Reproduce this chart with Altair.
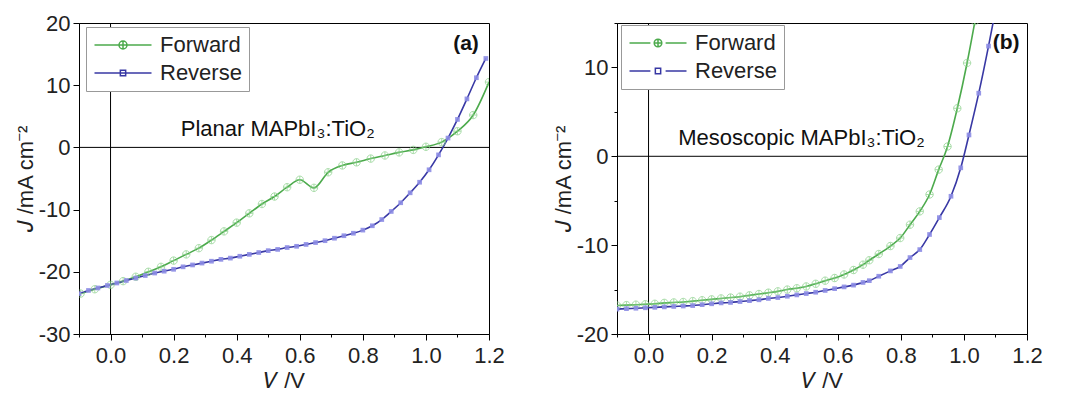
import altair as alt
import pandas as pd

# ---------------- data ----------------
a_fwd_v = [-0.095, -0.05, 0.0, 0.04, 0.08, 0.12, 0.16, 0.2, 0.24, 0.28, 0.32, 0.36, 0.4, 0.44, 0.48,
           0.52, 0.56, 0.6, 0.645, 0.69, 0.735, 0.78, 0.825, 0.87, 0.915, 0.96, 1.0, 1.05, 1.1, 1.15, 1.2]
a_fwd_j = [-23.5, -22.8, -22.1, -21.5, -20.8, -20.0, -19.2, -18.2, -17.2, -16.2, -14.9, -13.5, -12.1, -10.6, -9.1,
           -7.9, -6.4, -5.2, -6.5, -4.0, -2.9, -2.4, -1.8, -1.3, -0.8, -0.4, 0.1, 0.85, 2.6, 5.2, 10.5]

a_rev_v = [-0.1, -0.07, -0.04, -0.01, 0.02, 0.05, 0.08, 0.11, 0.14, 0.17, 0.2, 0.23, 0.26, 0.29, 0.32,
           0.35, 0.38, 0.41, 0.44, 0.47, 0.5, 0.53, 0.56, 0.59, 0.62, 0.65, 0.68, 0.71, 0.74, 0.77,
           0.8, 0.83, 0.86, 0.89, 0.92, 0.95, 0.98, 1.01, 1.04, 1.07, 1.1, 1.13, 1.16, 1.19]
a_rev_j = [-23.5, -23.0, -22.6, -22.2, -21.8, -21.4, -21.0, -20.6, -20.2, -19.9, -19.6, -19.2, -18.9, -18.6, -18.3,
           -18.0, -17.8, -17.5, -17.2, -16.9, -16.6, -16.4, -16.1, -15.9, -15.6, -15.3, -15.0, -14.6, -14.2, -13.8,
           -13.3, -12.6, -11.6, -10.3, -8.9, -7.3, -5.6, -3.6, -1.2, 1.5, 4.5, 7.8, 11.2, 14.3]

b_fwd_v = [-0.1, -0.07, -0.04, -0.01, 0.02, 0.05, 0.08, 0.11, 0.14, 0.17, 0.2, 0.23, 0.26, 0.29, 0.32,
           0.35, 0.38, 0.41, 0.44, 0.47, 0.5, 0.53, 0.56, 0.59, 0.62, 0.65, 0.68, 0.70, 0.73, 0.767,
           0.798, 0.829, 0.86, 0.891, 0.92, 0.948, 0.979, 1.01, 1.035]
b_fwd_j = [-16.8, -16.75, -16.7, -16.65, -16.6, -16.5, -16.45, -16.4, -16.3, -16.2, -16.1, -16.0, -15.9, -15.8, -15.65,
           -15.5, -15.35, -15.2, -15.0, -14.85, -14.65, -14.35, -14.0, -13.7, -13.3, -12.8, -12.2, -11.7, -11.0, -10.1,
           -9.2, -7.7, -6.2, -4.3, -1.5, 1.1, 5.4, 10.5, 15.2]

b_rev_v = [-0.1, -0.07, -0.04, -0.01, 0.02, 0.05, 0.08, 0.11, 0.14, 0.17, 0.2, 0.23, 0.26, 0.29, 0.32,
           0.35, 0.38, 0.41, 0.44, 0.47, 0.5, 0.53, 0.56, 0.59, 0.62, 0.65, 0.68, 0.70, 0.73, 0.767,
           0.798, 0.829, 0.86, 0.891, 0.922, 0.959, 0.99, 1.016, 1.047, 1.078, 1.095]
b_rev_j = [-17.2, -17.15, -17.1, -17.05, -17.0, -16.95, -16.9, -16.85, -16.8, -16.7, -16.6, -16.5, -16.45, -16.35, -16.25,
           -16.15, -16.0, -15.9, -15.75, -15.6, -15.45, -15.3, -15.1, -14.9, -14.7, -14.5, -14.2, -14.0, -13.5, -12.9,
           -12.4, -11.4, -10.5, -8.8, -6.9, -4.5, -1.3, 2.4, 7.1, 12.4, 15.5]

series_names = ["Forward", "Reverse"]
x_major = [0.0, 0.2, 0.4, 0.6, 0.8, 1.0, 1.2]
x_minor = [-0.1, 0.1, 0.3, 0.5, 0.7, 0.9, 1.1]
a_y_ticks = [-30, -25, -20, -15, -10, -5, 0, 5, 10, 15, 20]
b_y_ticks = [-20, -15, -10, -5, 0, 5, 10, 15]

FONT = "Liberation Sans"
FS = 22
GREEN_LINE = "#4caa4c"
GREEN_MARK = "#86cf86"
BLUE_LINE = "#3838a4"
BLUE_MARK = "#8c8ce4"

CIRCLE_PLUS = "M1,0A1,1 0 1,1 -1,0A1,1 0 1,1 1,0M0,-1V1M-1,0H1"

LEG_A = [
    "M-1,0H5M2.42,0A0.42,0.42 0 1,1 1.58,0A0.42,0.42 0 1,1 2.42,0M2,-0.42V0.42M1.58,0H2.42",
    "M-1,0H5M1.72,-0.28H2.28V0.28H1.72Z",
]
LEG_B = [
    "M-1,0H1.2M2.8,0H5M2.4,0A0.4,0.4 0 1,1 1.6,0A0.4,0.4 0 1,1 2.4,0M2,-0.4V0.4M1.6,0H2.4",
    "M-1,0H1.2M2.8,0H5M1.72,-0.28H2.28V0.28H1.72Z",
]


def make_df(fv, fj, rv, rj):
    return pd.concat([
        pd.DataFrame({"V": fv, "J": fj, "series": "Forward"}),
        pd.DataFrame({"V": rv, "J": rj, "series": "Reverse"}),
    ], ignore_index=True)


MAJOR_Y = "abs(datum.value/10 - round(datum.value/10)) < 0.01"

AX = dict(labelFont=FONT, titleFont=FONT, labelFontSize=FS, titleFontSize=FS, titleFontWeight="normal",
          labelColor="#222", titleColor="#222", domainColor="black", tickColor="black",
          domainWidth=1, tickWidth=1, grid=False, labelOverlap=False, labelFlush=False)


def panel(df, ydom, yticks, leg_paths, legx, legy, label, lx, ly, tag, tx, ty):
    xs = alt.Scale(domain=[-0.1, 1.2], nice=False, zero=False)
    ys = alt.Scale(domain=ydom, nice=False, zero=False)
    xaxis = alt.Axis(values=x_major, format=".1f", title="𝑉 /V", tickSize=6, orient="bottom",
                     labelPadding=5, titlePadding=4, **AX)
    xminor = alt.Axis(values=x_minor, labels=False, domain=False, title=None, tickSize=3, orient="bottom",
                      tickColor="black", tickWidth=1, grid=False)
    yaxis = alt.Axis(
        values=yticks, title="𝐽 /mA cm⁻²",
        labelExpr="'' + datum.value",
        labelOpacity={"condition": {"test": MAJOR_Y, "value": 1}, "value": 0},
        tickSize={"condition": {"test": MAJOR_Y, "value": 6}, "value": 3},
        labelPadding=3, titlePadding=4, minExtent=38, maxExtent=38, **AX,
    )
    xe = alt.X("V:Q", scale=xs, axis=None)
    ye = alt.Y("J:Q", scale=ys)

    zero_h = alt.Chart(pd.DataFrame({"J": [0]})).mark_rule(color="black", strokeWidth=1).encode(y=ye)
    zero_v = alt.Chart(pd.DataFrame({"V": [0]})).mark_rule(color="black", strokeWidth=1).encode(
        x=alt.X("V:Q", scale=xs, axis=xminor))

    base_f = alt.Chart(df).transform_filter("datum.series == 'Forward'")
    base_r = alt.Chart(df).transform_filter("datum.series == 'Reverse'")

    line_f = base_f.mark_line(clip=True, strokeWidth=1.6, interpolate="monotone", color=GREEN_LINE).encode(
        x=alt.X("V:Q", scale=xs, axis=xaxis), y=alt.Y("J:Q", scale=ys, axis=yaxis))
    line_r = base_r.mark_line(clip=True, strokeWidth=1.6, interpolate="monotone", color=BLUE_LINE).encode(x=xe, y=ye)
    pts_f = base_f.mark_point(shape=CIRCLE_PLUS, size=55, filled=False, color=GREEN_MARK,
                              strokeWidth=1, clip=True).encode(x=xe, y=ye)
    pts_r = base_r.mark_square(size=22, color=BLUE_MARK, opacity=0.9, clip=True).encode(x=xe, y=ye)

    leg = alt.Legend(
        orient="none", legendX=legx, legendY=legy, title=None,
        labelFont=FONT, labelFontSize=FS, labelColor="#222", symbolSize=361, labelOffset=45,
        strokeColor="#999", fillColor="white", padding=7, rowPadding=6,
        symbolStrokeWidth=1.5, labelLimit=300,
    )
    cscale = alt.Scale(domain=series_names, range=[GREEN_LINE, BLUE_LINE])
    sscale = alt.Scale(domain=series_names, range=leg_paths)
    legend_layer = alt.Chart(df).mark_point(filled=False, strokeWidth=1.5, opacity=0).encode(
        x=xe, y=ye,
        color=alt.Color("series:N", scale=cscale, legend=leg),
        shape=alt.Shape("series:N", scale=sscale, legend=leg),
    )

    txt = alt.Chart(pd.DataFrame({"V": [lx], "J": [ly], "t": [label]})).mark_text(
        font=FONT, fontSize=FS, color="#111").encode(x=xe, y=ye, text="t:N")
    tagt = alt.Chart(pd.DataFrame({"V": [tx], "J": [ty], "t": [tag]})).mark_text(
        font=FONT, fontSize=FS - 1, fontWeight="bold", color="#111").encode(x=xe, y=ye, text="t:N")

    return alt.layer(zero_h, zero_v, line_f, line_r, pts_f, pts_r, legend_layer, txt, tagt).resolve_axis(
        x="independent").properties(width=410, height=311)


df_a = make_df(a_fwd_v, a_fwd_j, a_rev_v, a_rev_j)
df_b = make_df(b_fwd_v, b_fwd_j, b_rev_v, b_rev_j)

pa = panel(df_a, [-30, 20], a_y_ticks, LEG_A, 7, 4, "Planar MAPbI₃:TiO₂", 0.53, 3.0, "(a)", 1.127, 16.7)
pb = panel(df_b, [-20, 15], b_y_ticks, LEG_B, 4, 2, "Mesoscopic MAPbI₃:TiO₂", 0.485, 2.1, "(b)", 1.134, 12.7)

chart = alt.hconcat(pa, pb, spacing=128, bounds="flush").resolve_scale(
    color="independent", shape="independent"
).resolve_legend(
    color="independent", shape="independent"
).properties(
    padding={"left": 5, "top": 3, "right": 5, "bottom": 3}, background="white"
).configure_view(stroke="black", strokeWidth=1)

chart.save("out.html", embed_options={"renderer": "svg", "actions": False})
